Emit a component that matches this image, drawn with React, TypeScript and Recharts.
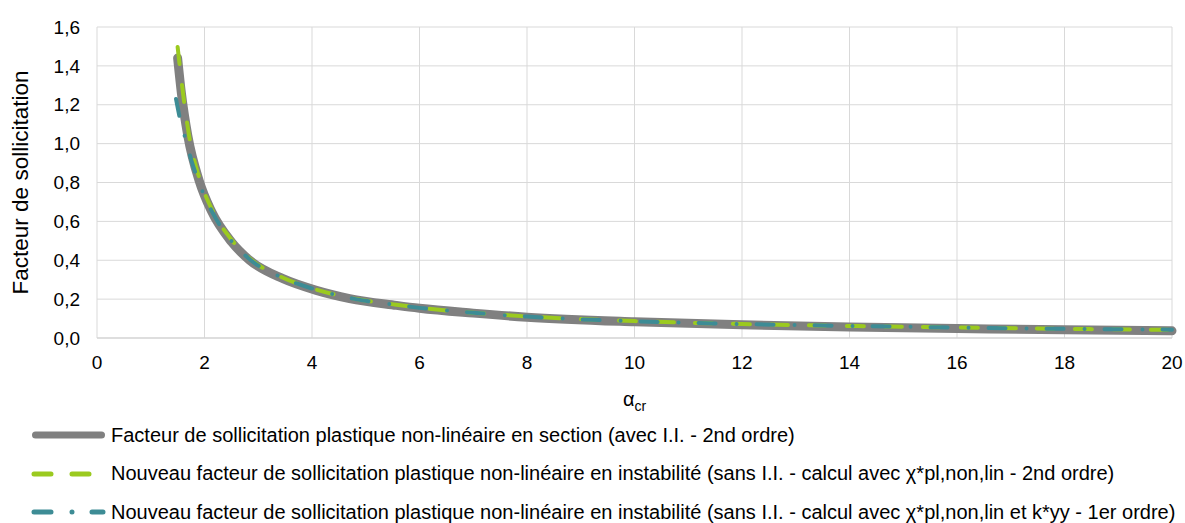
import React from "react";
import { CartesianGrid, Legend, Line, LineChart, XAxis, YAxis } from "recharts";

// alpha_cr -> facteur de sollicitation
const sectionPoints = [
  { x: 1.5, y: 1.44 }, { x: 1.57, y: 1.26 }, { x: 1.69, y: 1.04 }, { x: 1.9, y: 0.81 },
  { x: 2.125, y: 0.655 }, { x: 2.5, y: 0.495 }, { x: 2.84, y: 0.4 }, { x: 3.46, y: 0.305 },
  { x: 4.08, y: 0.245 }, { x: 4.7, y: 0.203 }, { x: 5.57, y: 0.168 }, { x: 6, y: 0.153 },
  { x: 7, y: 0.128 }, { x: 8, y: 0.107 }, { x: 10, y: 0.083 }, { x: 12, y: 0.068 },
  { x: 14, y: 0.057 }, { x: 16, y: 0.049 }, { x: 18, y: 0.042 }, { x: 20, y: 0.037 },
];

const instab2ndPoints = [
  { x: 1.5, y: 1.497 }, { x: 1.6, y: 1.26 }, { x: 1.72, y: 1.03 }, { x: 1.92, y: 0.81 },
  { x: 2.15, y: 0.655 }, { x: 2.52, y: 0.5 }, { x: 2.86, y: 0.405 }, { x: 3.46, y: 0.31 },
  { x: 4.08, y: 0.249 }, { x: 4.7, y: 0.207 }, { x: 5.57, y: 0.171 }, { x: 6, y: 0.156 },
  { x: 7, y: 0.13 }, { x: 8, y: 0.111 }, { x: 10, y: 0.087 }, { x: 12, y: 0.072 },
  { x: 14, y: 0.062 }, { x: 16, y: 0.054 }, { x: 18, y: 0.047 }, { x: 20, y: 0.042 },
];

const instab1stPoints = [
  { x: 1.47, y: 1.23 }, { x: 1.55, y: 1.12 }, { x: 1.65, y: 1.02 }, { x: 1.76, y: 0.91 },
  { x: 1.94, y: 0.77 }, { x: 2.15, y: 0.645 }, { x: 2.5, y: 0.5 }, { x: 2.84, y: 0.405 },
  { x: 3.46, y: 0.309 }, { x: 4.08, y: 0.248 }, { x: 4.7, y: 0.206 }, { x: 5.57, y: 0.17 },
  { x: 6, y: 0.155 }, { x: 7, y: 0.13 }, { x: 8, y: 0.11 }, { x: 10, y: 0.086 },
  { x: 12, y: 0.072 }, { x: 14, y: 0.062 }, { x: 16, y: 0.054 }, { x: 18, y: 0.047 },
  { x: 20, y: 0.043 },
];

const xTicks = [0, 2, 4, 6, 8, 10, 12, 14, 16, 18, 20];
const yTicks = [0, 0.2, 0.4, 0.6, 0.8, 1.0, 1.2, 1.4, 1.6];

const series = [
  {
    key: "section",
    data: sectionPoints,
    color: "#808080",
    width: 9,
    dash: undefined as string | undefined,
    label: "Facteur de sollicitation plastique non-linéaire en section (avec I.I. - 2nd ordre)",
  },
  {
    key: "instab2",
    data: instab2ndPoints,
    color: "#9BCA1F",
    width: 4,
    dash: "17 21",
    label:
      "Nouveau facteur de sollicitation plastique non-linéaire en instabilité (sans I.I. - calcul avec χ*pl,non,lin - 2nd ordre)",
  },
  {
    key: "instab1",
    data: instab1stPoints,
    color: "#3D8C95",
    width: 4,
    dash: "17 21 0 20",
    label:
      "Nouveau facteur de sollicitation plastique non-linéaire en instabilité (sans I.I. - calcul avec χ*pl,non,lin et k*yy - 1er ordre)",
  },
];

const FONT = "'Liberation Sans', Arial, sans-serif";

function LegendRows() {
  return (
    <div style={{ fontFamily: FONT, fontSize: 20, color: "#000" }}>
      {series.map((s) => (
        <div key={s.key} style={{ display: "flex", alignItems: "center", height: 38.5 }}>
          <svg width={111} height={12} style={{ flex: "none" }}>
            {s.dash ? (
              <line x1={34} x2={s.key === "instab1" ? 103 : 89} y1={6} y2={6} stroke={s.color}
                strokeWidth={s.width + 1} strokeDasharray={s.dash} strokeLinecap="round" />
            ) : (
              <line x1={35.5} x2={101.5} y1={6} y2={6} stroke={s.color} strokeWidth={7} strokeLinecap="round" />
            )}
          </svg>
          <span style={{ whiteSpace: "nowrap" }}>{s.label}</span>
        </div>
      ))}
    </div>
  );
}

export default function App() {
  return (
    <div style={{ position: "relative", width: 1185, height: 523, background: "#fff", overflow: "hidden" }}>
      <style>{"body{margin:0}"}</style>
      <LineChart width={1185} height={523} margin={{ top: 27, right: 13, bottom: 105, left: 0 }}>
        <CartesianGrid stroke="#D9D9D9" strokeWidth={1} />
        <XAxis
          type="number"
          dataKey="x"
          domain={[0, 20]}
          ticks={xTicks}
          height={80}
          tickLine={false}
          tickSize={0}
          tickMargin={18}
          axisLine={{ stroke: "#D0D0D0" }}
          tick={{ fill: "#000", fontSize: 19, fontFamily: FONT }}
          label={({ viewBox }: any) => (
            <text x={viewBox.x + viewBox.width / 2} y={viewBox.y + 68} textAnchor="middle" fontFamily={FONT} fill="#000">
              <tspan fontSize={20}>α</tspan>
              <tspan fontSize={14} dy={5}>cr</tspan>
            </text>
          )}
        />
        <YAxis
          type="number"
          domain={[0, 1.6]}
          ticks={yTicks}
          width={97}
          tickLine={false}
          tickSize={0}
          tickMargin={17}
          axisLine={false}
          tickFormatter={(v: number) => v.toFixed(1).replace(".", ",")}
          tick={{ fill: "#000", fontSize: 19, fontFamily: FONT }}
          label={({ viewBox }: any) => {
            const cx = 20.5;
            const cy = viewBox.y + viewBox.height / 2;
            return (
              <text x={cx} y={cy} transform={`rotate(-90, ${cx}, ${cy})`} textAnchor="middle"
                dominantBaseline="central" fontFamily={FONT} fontSize={22.5} fill="#000">
                Facteur de sollicitation
              </text>
            );
          }}
        />
        <Legend
          layout="horizontal"
          verticalAlign="middle"
          align="center"
          wrapperStyle={{ top: 416, left: 0, width: 1185 }}
          content={() => <LegendRows />}
        />
        {series.map((s) => (
          <Line
            key={s.key}
            data={s.data}
            dataKey="y"
            name={s.label}
            type="monotone"
            stroke={s.color}
            strokeWidth={s.width}
            strokeDasharray={s.dash}
            strokeLinecap="round"
            dot={false}
            activeDot={false}
            isAnimationActive={false}
          />
        ))}
      </LineChart>
    </div>
  );
}
